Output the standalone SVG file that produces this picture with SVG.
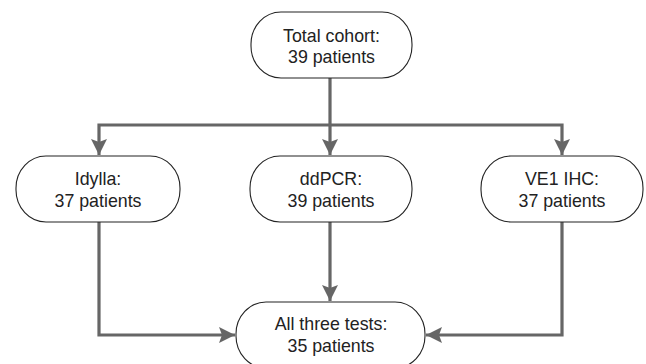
<svg xmlns="http://www.w3.org/2000/svg" width="646" height="364" viewBox="0 0 646 364">
<style>
.node rect{fill:#fff;stroke:#222;stroke-width:1.1}
.node text{font-family:"Liberation Sans",Arial,sans-serif;font-size:17.8px;fill:#222;text-anchor:middle}
.conn{fill:none;stroke:#666;stroke-width:3.2}
</style>
<defs>
<marker id="ah" markerUnits="userSpaceOnUse" markerWidth="16" markerHeight="16" viewBox="0 0 16 16" refX="16" refY="8" orient="auto">
<path d="M0,0 L16,8 L0,16 L3,8 Z" fill="#666"/>
</marker>
</defs>
<rect width="646" height="364" fill="#fff"/>
<g id="connectors">
<path class="conn" d="M330,78 V155" marker-end="url(#ah)"/>
<path class="conn" d="M330,125 H99 V155" marker-end="url(#ah)"/>
<path class="conn" d="M330,125 H562 V155" marker-end="url(#ah)"/>
<path class="conn" d="M99,221 V335 H235" marker-end="url(#ah)"/>
<path class="conn" d="M330,222 V301" marker-end="url(#ah)"/>
<path class="conn" d="M562,222 V335 H426" marker-end="url(#ah)"/>
</g>
<g id="total" class="node">
<rect x="251" y="12" width="161" height="66" rx="30" ry="32"/>
<text x="331.5" y="42">Total cohort:</text>
<text x="331.5" y="63">39 patients</text>
</g>
<g id="idylla" class="node">
<rect x="16" y="156" width="164" height="66" rx="30" ry="32"/>
<text x="98" y="185">Idylla:</text>
<text x="98" y="207">37 patients</text>
</g>
<g id="ddpcr" class="node">
<rect x="250" y="156" width="162" height="66" rx="30" ry="32"/>
<text x="331" y="185">ddPCR:</text>
<text x="331" y="207">39 patients</text>
</g>
<g id="ve1" class="node">
<rect x="481" y="156" width="162" height="66" rx="30" ry="32"/>
<text x="562" y="185">VE1 IHC:</text>
<text x="562" y="207">37 patients</text>
</g>
<g id="all" class="node">
<rect x="236" y="302" width="189" height="66" rx="30" ry="32"/>
<text x="331" y="330">All three tests:</text>
<text x="331" y="352">35 patients</text>
</g>
</svg>
